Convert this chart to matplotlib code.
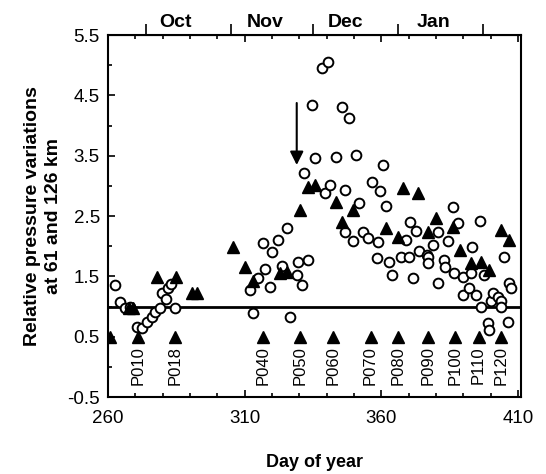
import matplotlib
matplotlib.use("Agg")
import matplotlib.pyplot as plt
import numpy as np

plt.rcParams['font.family'] = ['Liberation Sans', 'DejaVu Sans']

# open circles (day of year, relative pressure variation)
circ_day = [262.6, 264.4, 266.2, 268.0, 270.6, 272.5, 274.3, 276.1, 277.2, 279.0,
            279.8, 281.0, 282.0, 283.0, 284.5,
            312.0, 313.0, 315.0, 316.8, 317.5, 319.3, 320.0, 322.3, 323.7, 325.5,
            326.7, 329.0, 329.6, 331.0, 331.5, 333.3, 334.7, 335.8, 338.4, 339.5,
            340.6, 341.3, 343.2, 345.7, 346.8, 348.3, 350.5, 351.6, 356.7, 359.6,
            360.4, 361.5, 346.8, 349.7, 353.4, 355.2, 358.9,
            358.5, 362.6, 364.0, 367.0, 368.8, 370.0, 370.6, 371.4, 372.5, 373.6,
            376.5, 376.9, 377.2, 379.0, 380.5, 380.5, 382.7, 383.4, 384.5, 386.0,
            386.4, 388.0, 390.0, 390.0, 391.9, 392.6, 393.3, 394.4, 395.9, 396.3,
            397.4, 398.8, 399.2, 399.9, 400.7, 402.5, 403.6, 403.6, 405.0, 406.2,
            406.5, 407.3]
circ_val = [1.35, 1.07, 0.97, 0.99, 0.66, 0.64, 0.74, 0.82, 0.91, 0.97,
            1.22, 1.12, 1.30, 1.38, 0.97,
            1.27, 0.89, 1.47, 2.05, 1.63, 1.32, 1.90, 2.10, 1.68, 2.30,
            0.83, 1.52, 1.74, 1.35, 3.21, 1.77, 4.34, 3.46, 4.95, 2.88,
            5.05, 3.01, 3.48, 4.31, 2.93, 4.12, 3.51, 2.71, 3.06, 2.91,
            3.34, 2.66, 2.23, 2.08, 2.23, 2.13, 2.07,
            1.80, 1.74, 1.52, 1.82, 2.10, 1.82, 2.40, 1.47, 2.25, 1.92,
            1.85, 1.82, 1.72, 2.02, 2.23, 1.39, 1.77, 1.65, 2.08, 2.65,
            1.55, 2.38, 1.49, 1.19, 1.30, 1.55, 1.98, 1.19, 2.42, 0.99,
            1.52, 0.72, 0.61, 1.10, 1.22, 1.15, 1.10, 0.99, 1.82, 0.74,
            1.39, 1.30]

# filled triangles
tri_day = [267.5, 269.0, 278.0, 285.0, 290.8, 292.6,
           305.8, 310.0, 313.0, 323.0, 325.5, 330.3, 333.3, 335.8, 343.2,
           345.7, 349.7, 361.5, 365.9, 367.7, 373.2, 376.9, 379.8, 386.0,
           388.9, 392.6, 396.3, 399.2, 403.6, 406.5]
tri_val = [0.98, 0.98, 1.49, 1.49, 1.22, 1.22,
           1.98, 1.65, 1.42, 1.55, 1.57, 2.60, 2.98, 3.01, 2.73,
           2.40, 2.60, 2.30, 2.15, 2.96, 2.88, 2.23, 2.47, 2.32,
           1.93, 1.72, 1.74, 1.60, 2.27, 2.10]

# flight markers along the bottom
flight_day = [260.7, 271.0, 284.5, 316.8, 330.3, 342.4, 356.0, 366.0, 377.0, 387.0, 395.5, 403.6]
flight_lbl = ['', 'P010', 'P018', 'P040', 'P050', 'P060', 'P070', 'P080', 'P090', 'P100', 'P110', 'P120']

month_edges = [274, 305, 335, 366, 397]
month_pos = [284.5, 317.5, 346.8, 379.0]
month_lbl = ['Oct', 'Nov', 'Dec', 'Jan']

fig = plt.figure(figsize=(5.46, 4.74), dpi=100)
ax = fig.add_axes([0.198, 0.1624, 0.756, 0.7636])

ax.axhline(1.0, color='black', lw=2, zorder=1)
ax.plot(circ_day, circ_val, 'o', ms=7, mfc='white', mec='black', mew=1.4, zorder=3)
ax.plot(tri_day, tri_val, '^', ms=8, color='black', zorder=4)
ax.plot(flight_day, [0.5] * len(flight_day), '^', ms=8, color='black', zorder=4)
for d, t in zip(flight_day, flight_lbl):
    ax.text(d, 0.34, t, rotation=90, ha='center', va='top', fontsize=12)

ax.annotate('', xy=(329, 3.3), xytext=(329, 4.42),
            arrowprops=dict(arrowstyle='-|>', color='black', lw=1.5, mutation_scale=20))

ax.set_xlim(260, 411)
ax.set_ylim(-0.5, 5.5)
ax.set_xticks([260, 310, 360, 410])
ax.set_xticks(np.arange(270, 411, 10), minor=True)
ax.set_yticks(np.arange(-0.5, 5.6, 1.0))
ax.set_yticks(np.arange(0, 5.6, 1.0), minor=True)
ax.set_yticklabels(['-0.5', '0.5', '1.5', '2.5', '3.5', '4.5', '5.5'])
ax.tick_params(which='both', direction='in', top=True, right=False, labelsize=13.5)
ax.tick_params(axis='y', pad=6)
ax.tick_params(axis='x', pad=9)
ax.tick_params(which='major', length=5, width=1.2)
ax.tick_params(which='minor', length=3, width=1.2)
for s in ax.spines.values():
    s.set_linewidth(1.5)

top = ax.secondary_xaxis('top')
top.set_xticks(month_edges)
top.set_xticklabels([])
top.set_xticks(month_pos, minor=True)
top.set_xticklabels(month_lbl, minor=True, fontsize=14, fontweight='bold')
top.tick_params(which='major', direction='out', length=8, width=1.2)
top.tick_params(which='minor', length=0, pad=3)

ax.set_xlabel('Day of year', fontsize=13, fontweight='bold', labelpad=20)
ax.set_ylabel('Relative pressure variations\nat 61 and 126 km', fontsize=14,
              fontweight='bold', linespacing=1.3, labelpad=4)

fig.savefig('out.png', dpi=100)
